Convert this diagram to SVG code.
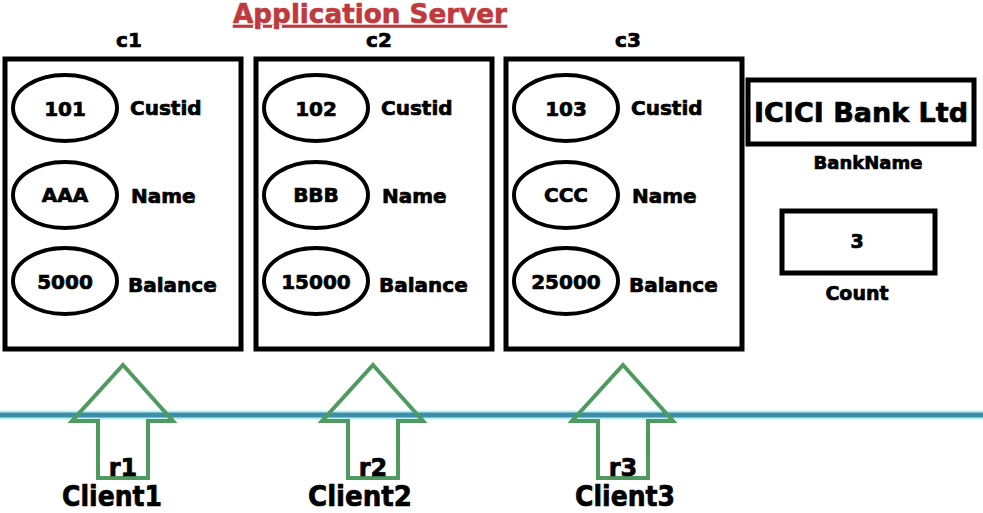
<svg xmlns="http://www.w3.org/2000/svg" width="983" height="513" viewBox="0 0 983 513">
<defs>
<style>
text{font-family:"DejaVu Sans","Liberation Sans",Arial,sans-serif;font-weight:bold;fill:#000;stroke:#000;stroke-width:0.7;paint-order:stroke}
.box{fill:#fff;stroke:#000;stroke-width:5}
.ell{fill:#fff;stroke:#000;stroke-width:4}
.v{font-size:20px;text-anchor:middle}
.l{font-size:20px}
.t{font-size:20px;text-anchor:middle}
.arrow{fill:none;stroke:#4f9a5f;stroke-width:4;stroke-linejoin:miter}
.r{font-size:24px;text-anchor:middle}
.cl{font-size:28px;text-anchor:middle}
</style>
<g id="objtpl">
<rect class="box" x="5" y="59" width="236" height="290"/>
<ellipse class="ell" cx="65" cy="108" rx="52" ry="33"/>
<ellipse class="ell" cx="65" cy="195" rx="52" ry="33"/>
<ellipse class="ell" cx="65" cy="281" rx="52" ry="33"/>
<text class="l" x="130" y="115">Custid</text>
<text class="l" x="131" y="203">Name</text>
<text class="l" x="128" y="292">Balance</text>
</g>
<path id="arr" class="arrow" d="M123,365 L173,421 L148,421 L148,478 L98,478 L98,421 L72,421 Z"/>
</defs>
<rect width="983" height="513" fill="#fff"/>
<text id="title" x="370" y="23" text-anchor="middle" font-size="26" style="fill:#c0393d;stroke:#c0393d;stroke-width:0.6;text-decoration:underline" textLength="274" lengthAdjust="spacingAndGlyphs">Application Server</text>

<g id="c1">
<text class="t" x="129" y="47">c1</text>
<use href="#objtpl"/>
<text class="v" x="65" y="116">101</text>
<text class="v" x="65" y="202">AAA</text>
<text class="v" x="65" y="289">5000</text>
</g>
<g id="c2" transform="translate(251,0)">
<text class="t" x="128" y="47">c2</text>
<use href="#objtpl"/>
<text class="v" x="65" y="116">102</text>
<text class="v" x="65" y="202">BBB</text>
<text class="v" x="65" y="289">15000</text>
</g>
<g id="c3" transform="translate(501,0)">
<text class="t" x="127" y="47">c3</text>
<use href="#objtpl"/>
<text class="v" x="65" y="116">103</text>
<text class="v" x="65" y="202">CCC</text>
<text class="v" x="65" y="289">25000</text>
</g>

<g id="bankname">
<rect class="box" x="748" y="80" width="226" height="64"/>
<text x="861" y="122" font-size="27" text-anchor="middle">ICICI Bank Ltd</text>
<text x="868" y="169" font-size="18" text-anchor="middle">BankName</text>
</g>
<g id="count">
<rect class="box" x="782" y="211" width="153" height="62"/>
<text x="857" y="248" font-size="19" text-anchor="middle">3</text>
<text x="857" y="300" font-size="19" text-anchor="middle">Count</text>
</g>

<g id="connectors">
<line x1="0" y1="415" x2="983" y2="415" stroke="#b8f0f4" stroke-width="9"/>
<line x1="0" y1="415" x2="983" y2="415" stroke="#3d8ea6" stroke-width="5"/>
<use href="#arr"/>
<use href="#arr" transform="translate(250,0)"/>
<use href="#arr" transform="translate(500,0)"/>
</g>

<g id="client1">
<text class="r" x="123" y="476">r1</text>
<text class="cl" x="112" y="506" textLength="100" lengthAdjust="spacingAndGlyphs">Client1</text>
</g>
<g id="client2">
<text class="r" x="373" y="476">r2</text>
<text class="cl" x="360" y="506" textLength="104" lengthAdjust="spacingAndGlyphs">Client2</text>
</g>
<g id="client3">
<text class="r" x="623" y="476">r3</text>
<text class="cl" x="625" y="506" textLength="100" lengthAdjust="spacingAndGlyphs">Client3</text>
</g>
</svg>
